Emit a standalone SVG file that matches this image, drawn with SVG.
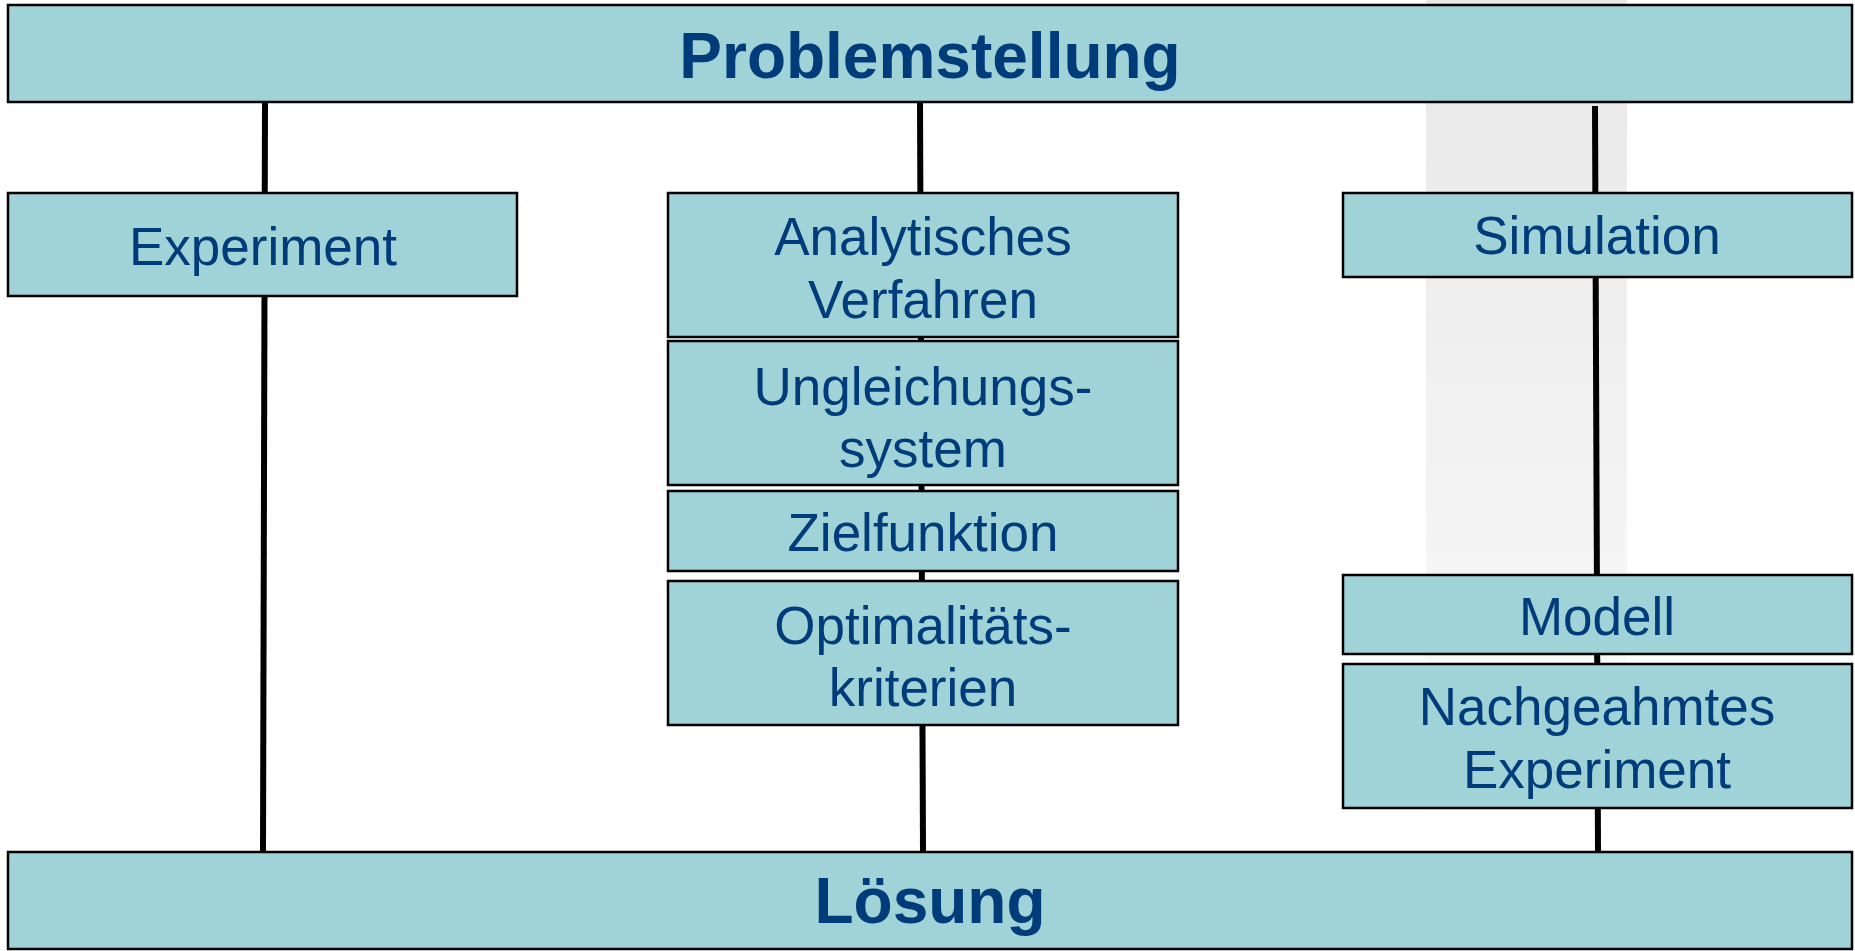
<svg xmlns="http://www.w3.org/2000/svg" width="1855" height="951" viewBox="0 0 1855 951">
<defs>
<linearGradient id="band" x1="0" y1="0" x2="0" y2="1">
<stop offset="0" stop-color="#e8e8e8"/>
<stop offset="0.6" stop-color="#f3f3f3"/>
<stop offset="1" stop-color="#ffffff"/>
</linearGradient>
<style>
.box{fill:#9fd3d7;stroke:#000;stroke-width:2.5}
.t{font-family:"Liberation Sans",Arial,sans-serif;font-size:53px;fill:#003b7a;text-anchor:middle}
.tb{font-family:"Liberation Sans",Arial,sans-serif;font-size:64px;font-weight:bold;fill:#003b7a;text-anchor:middle}
.ln{stroke:#000;stroke-width:6;fill:none}
</style>
</defs>
<rect x="1426" y="0" width="201" height="830" fill="url(#band)"/>
<g id="connectors">
<line class="ln" x1="265" y1="102" x2="263" y2="852"/>
<line class="ln" x1="920" y1="102" x2="923" y2="852"/>
<line class="ln" x1="1595" y1="106" x2="1598" y2="852"/>
</g>
<g id="problemstellung">
<rect class="box" x="8" y="5" width="1844" height="97"/>
<text class="tb" x="930" y="78">Problemstellung</text>
</g>
<g id="experiment">
<rect class="box" x="8" y="193" width="509" height="103"/>
<text class="t" x="263" y="265">Experiment</text>
</g>
<g id="analytisch">
<rect class="box" x="668" y="193" width="510" height="144"/>
<text class="t" x="923" y="255">Analytisches</text>
<text class="t" x="923" y="318">Verfahren</text>
</g>
<g id="ungleichung">
<rect class="box" x="668" y="341" width="510" height="144"/>
<text class="t" x="923" y="405">Ungleichungs-</text>
<text class="t" x="923" y="467">system</text>
</g>
<g id="zielfunktion">
<rect class="box" x="668" y="491" width="510" height="80"/>
<text class="t" x="923" y="551">Zielfunktion</text>
</g>
<g id="optimalitaet">
<rect class="box" x="668" y="581" width="510" height="144"/>
<text class="t" x="923" y="644">Optimalitäts-</text>
<text class="t" x="923" y="706">kriterien</text>
</g>
<g id="simulation">
<rect class="box" x="1343" y="193" width="509" height="84"/>
<text class="t" x="1597" y="254">Simulation</text>
</g>
<g id="modell">
<rect class="box" x="1343" y="575" width="509" height="79"/>
<text class="t" x="1597" y="635">Modell</text>
</g>
<g id="nachgeahmt">
<rect class="box" x="1343" y="664" width="509" height="144"/>
<text class="t" x="1597" y="725">Nachgeahmtes</text>
<text class="t" x="1597" y="788">Experiment</text>
</g>
<g id="loesung">
<rect class="box" x="8" y="852" width="1844" height="97"/>
<text class="tb" x="930" y="923">Lösung</text>
</g>
</svg>
